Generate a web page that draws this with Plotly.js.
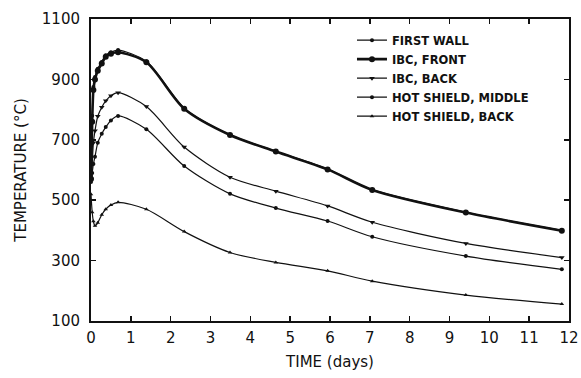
<!DOCTYPE html>
<html>
<head>
<meta charset="utf-8">
<script src="https://cdn.plot.ly/plotly-3.0.1.min.js"></script>
<style>html,body{margin:0;padding:0;background:#fff;}#chart{width:581px;height:378px;}</style>
</head>
<body>
<div id="chart"></div>
<script>
// Time (days)
var time = [0, 0.03, 0.06, 0.1, 0.17, 0.27, 0.37, 0.5, 0.68, 1.39, 2.34, 3.49, 4.64, 5.94, 7.06, 9.41, 11.82];
// Temperatures (°C)
var firstWall   = [580, 780, 875, 908, 935, 958, 980, 990, 997, 960, 805, 717, 662, 603, 535, 460, 400];
var ibcFront    = [570, 760, 865, 900, 929, 953, 975, 985, 990, 957, 803, 716, 661, 602, 534, 459, 399];
var ibcBack     = [570, 620, 690, 730, 778, 808, 829, 846, 856, 810, 676, 576, 530, 481, 427, 357, 310];
var hsMiddle    = [560, 590, 620, 644, 690, 720, 742, 764, 779, 735, 613, 521, 474, 431, 379, 315, 271];
var hsBack      = [520, 460, 430, 415, 425, 452, 470, 484, 493, 470, 396, 327, 294, 266, 232, 186, 156];
var seriesNames = ["FIRST WALL", "IBC, FRONT", "IBC, BACK", "HOT SHIELD, MIDDLE", "HOT SHIELD, BACK"];
var xTicks = [0,1,2,3,4,5,6,7,8,9,10,11,12];
var yTicks = [100,300,500,700,900,1100];

var ink = '#111';
function tr(y, name, w, sym, sz, dash) {
  return {x: time, y: y, name: name, type: 'scatter', mode: 'lines+markers',
    line: {color: ink, width: w, shape: 'spline', smoothing: 0.8, dash: dash || 'solid'},
    marker: {color: ink, symbol: sym, size: sz}};
}
var data = [
  tr(firstWall, seriesNames[0], 1.2, 'circle', 4),
  tr(ibcFront, seriesNames[1], 2.6, 'circle', 6),
  tr(ibcBack, seriesNames[2], 1.2, 'triangle-down', 5),
  tr(hsMiddle, seriesNames[3], 1.2, 'circle', 4),
  tr(hsBack, seriesNames[4], 1.2, 'triangle-up', 4)
];
var font = {family: 'DejaVu Sans, Liberation Sans, sans-serif', size: 15, color: ink};
var layout = {
  width: 581, height: 378,
  margin: {l: 91, r: 12, t: 19, b: 57},
  paper_bgcolor: '#fff', plot_bgcolor: '#fff',
  font: font,
  showlegend: true,
  legend: {x: 0.546, y: 0.978, xanchor: 'left', yanchor: 'top', bgcolor: 'rgba(0,0,0,0)',
    font: {family: 'DejaVu Sans, Liberation Sans, sans-serif', size: 11.5, color: ink, weight: 'bold'},
    tracegroupgap: 0, itemwidth: 30},
  xaxis: {range: [0, 12], tickvals: xTicks, ticktext: xTicks.map(String),
    ticks: 'inside', ticklen: 5, tickwidth: 1.5, tickcolor: ink,
    showline: true, linecolor: ink, linewidth: 2, mirror: 'ticks',
    showgrid: false, zeroline: false, ticklabelstandoff: 2,
    title: {text: 'TIME (days)', font: font, standoff: 10}},
  yaxis: {range: [100, 1100], tickvals: yTicks, ticktext: yTicks.map(String),
    ticks: 'inside', ticklen: 5, tickwidth: 1.5, tickcolor: ink,
    showline: true, linecolor: ink, linewidth: 2, mirror: 'ticks',
    showgrid: false, zeroline: false, ticklabelstandoff: 6,
    title: {text: 'TEMPERATURE (°C)', font: font, standoff: 12}}
};
Plotly.newPlot('chart', data, layout, {staticPlot: true, displayModeBar: false});
</script>
</body>
</html>
